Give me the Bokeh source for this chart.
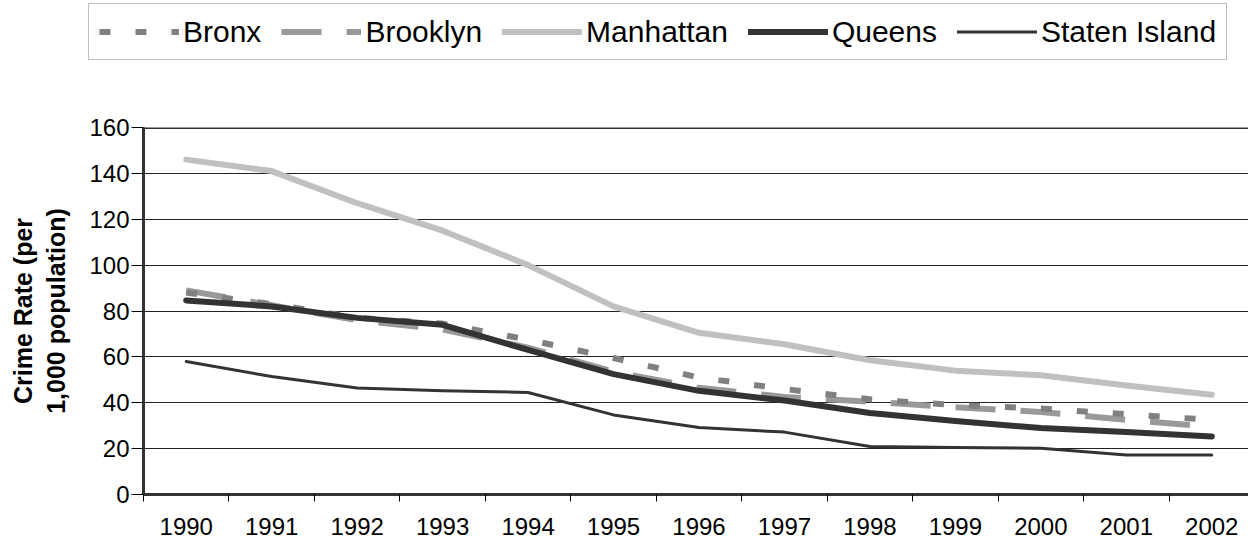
from bokeh.plotting import figure
from bokeh.models import FixedTicker, Legend, LegendItem, Span, Range1d
from bokeh.embed import file_html
from bokeh.resources import INLINE

years = ["1990", "1991", "1992", "1993", "1994", "1995", "1996",
         "1997", "1998", "1999", "2000", "2001", "2002"]
bronx = [88, 83, 77, 74.5, 67.5, 59.5, 51, 46, 41.5, 39, 37.5, 35, 32.5]
brooklyn = [89, 82.5, 76, 72, 64, 53.5, 46.5, 42.5, 40.5, 38, 36, 32.5, 29.5]
manhattan = [146, 141, 127, 115, 100, 82, 70.5, 65.5, 58.5, 54, 52, 47.5, 43.5]
queens = [84.6, 82, 77, 74, 63, 52.5, 45.2, 41, 35.5, 32, 29, 27.2, 25.3]
staten = [58, 51.4, 46.4, 45.2, 44.5, 34.7, 29.2, 27.2, 20.9, 20.5, 20.2, 17.2, 17.2]
y_ticks = [0, 20, 40, 60, 80, 100, 120, 140, 160]
names = ["Bronx", "Brooklyn", "Manhattan", "Queens", "Staten Island"]

x = list(range(len(years)))
FONT = "Liberation Sans"

styles = {
    "Bronx": dict(line_color="#808080", line_width=6, line_dash="11 25"),
    "Brooklyn": dict(line_color="#999999", line_width=6, line_dash="40 25"),
    "Manhattan": dict(line_color="#c0c0c0", line_width=6, line_cap="round", line_join="round"),
    "Queens": dict(line_color="#333333", line_width=6, line_cap="round", line_join="round"),
    "Staten Island": dict(line_color="#333333", line_width=3, line_cap="round", line_join="round"),
}
series = {"Bronx": bronx, "Brooklyn": brooklyn, "Manhattan": manhattan,
          "Queens": queens, "Staten Island": staten}

# ---------------- legend strip (separate root, stacked above) ----------------
# same series drawn far outside this strip's visible y range; only the legend shows
top = figure(width=1248, height=112, output_backend="svg", toolbar_location=None,
             x_range=Range1d(-0.5, 12.43), y_range=Range1d(-1001, -1000),
             x_axis_type=None, y_axis_type=None,
             min_border_left=0, min_border_right=0, min_border_top=0, min_border_bottom=0)
top.outline_line_color = None
top.xgrid.visible = False
top.ygrid.visible = False

items = []
for nm in names:
    r = top.line(x, series[nm], **styles[nm])
    items.append(LegendItem(label=nm, renderers=[r]))

legend = Legend(items=items, orientation="horizontal", location=(88, 52))
legend.glyph_width = 80
legend.glyph_height = 35
legend.label_height = 35
legend.label_standoff = 4
legend.spacing = 20
legend.padding = 10
legend.margin = 0
legend.label_text_font = FONT
legend.label_text_font_size = "30px"
legend.label_text_color = "#000000"
legend.border_line_color = "#808080"
legend.border_line_width = 1
legend.background_fill_color = "white"
legend.background_fill_alpha = 1
top.add_layout(legend)

# ---------------- main chart ----------------
p = figure(width=1248, height=429, output_backend="svg", toolbar_location=None,
           x_range=Range1d(-0.5, 12.43), y_range=Range1d(0, 160),
           min_border_left=143, min_border_right=0, min_border_top=15,
           min_border_bottom=47)
p.outline_line_color = None
p.background_fill_color = "white"

for nm in ["Brooklyn", "Bronx", "Manhattan", "Staten Island", "Queens"]:
    p.line(x, series[nm], **styles[nm])

p.add_layout(Span(location=160, dimension="width", line_color="#333333", line_width=3))

p.xgrid.visible = False
p.ygrid.ticker = FixedTicker(ticks=y_ticks[1:-1])
p.ygrid.grid_line_color = "#222222"
p.ygrid.grid_line_width = 1

ya = p.yaxis[0]
ya.ticker = FixedTicker(ticks=y_ticks)
ya.axis_line_color = "#333333"
ya.axis_line_width = 3
ya.major_tick_out = 12
ya.major_tick_in = 0
ya.major_tick_line_color = "#000000"
ya.minor_tick_line_color = None
ya.major_label_text_font = FONT
ya.major_label_text_font_size = "24px"
ya.major_label_text_color = "#000000"
ya.major_label_standoff = 2
ya.axis_label = "Crime Rate (per\n1,000 population)"
ya.axis_label_text_font = FONT
ya.axis_label_text_font_style = "bold"
ya.axis_label_text_font_size = "25px"
ya.axis_label_text_color = "#000000"
ya.axis_label_standoff = 16

xa = p.xaxis[0]
xa.ticker = FixedTicker(ticks=x, minor_ticks=[i - 0.5 for i in range(len(years) + 1)])
xa.major_label_overrides = {i: years[i] for i in x}
xa.axis_line_color = "#333333"
xa.axis_line_width = 3
xa.major_tick_line_color = None
xa.major_tick_out = 0
xa.major_tick_in = 0
xa.minor_tick_line_color = "#000000"
xa.minor_tick_out = 7
xa.minor_tick_in = 0
xa.major_label_text_font = FONT
xa.major_label_text_font_size = "24px"
xa.major_label_text_color = "#000000"
xa.major_label_standoff = 16

open("out.html", "w").write(file_html([top, p], INLINE))
